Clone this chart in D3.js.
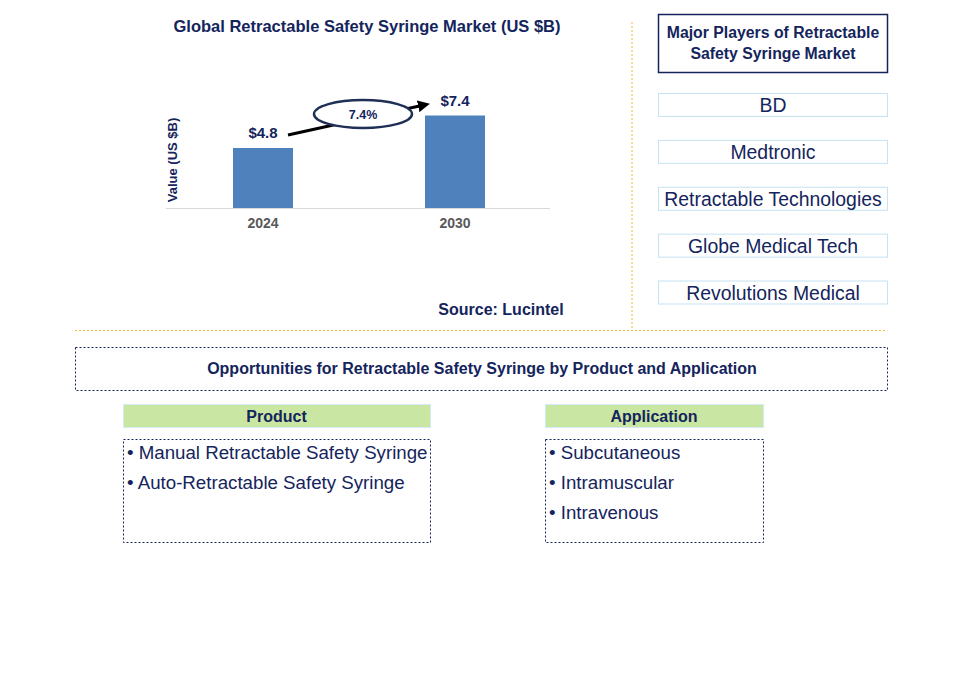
<!DOCTYPE html>
<html><head><meta charset="utf-8">
<script src="https://cdn.jsdelivr.net/npm/d3@7/dist/d3.min.js"></script>
<style>body{margin:0;background:#fff}svg{display:block;font-family:"Liberation Sans",Arial,sans-serif}</style>
</head><body>
<svg id="c" width="963" height="673"></svg>
<script>
const years = ["2024", "2030"];
const values = [4.8, 7.4];
const valueLabels = ["$4.8", "$7.4"];
const cagrLabel = "7.4%";
const players = ["BD", "Medtronic", "Retractable Technologies", "Globe Medical Tech", "Revolutions Medical"];
const products = ["Manual Retractable Safety Syringe", "Auto-Retractable Safety Syringe"];
const applications = ["Subcutaneous", "Intramuscular", "Intravenous"];

const navy = "#14245c";
const svg = d3.select("#c");

// chart
const x = d3.scaleBand().domain(years).range([167, 551]).paddingInner(0.6875).paddingOuter(0.34375);
const y = d3.scaleLinear().domain([0, 8]).range([208, 108]);

svg.append("text").attr("x", 367).attr("y", 32).attr("text-anchor", "middle")
  .attr("font-size", 16.5).attr("font-weight", "bold").attr("fill", navy)
  .text("Global Retractable Safety Syringe Market (US $B)");

svg.selectAll("rect.bar").data(values).join("rect").attr("class", "bar")
  .attr("x", (d, i) => x(years[i])).attr("width", x.bandwidth())
  .attr("y", d => y(d)).attr("height", d => y(0) - y(d)).attr("fill", "#4f81bd");

const xAxis = svg.append("g").attr("transform", `translate(0,${y(0)})`)
  .call(d3.axisBottom(x).tickSize(0).tickPadding(10));
xAxis.select(".domain").attr("stroke", "#d9d9d9").attr("d", "M166,0.5H550");
xAxis.selectAll("text").attr("font-size", 14).attr("font-weight", "bold").attr("fill", "#595959")
  .attr("font-family", "Liberation Sans, Arial, sans-serif");

svg.append("text").attr("transform", "translate(177,160) rotate(-90)").attr("text-anchor", "middle")
  .attr("font-size", 13).attr("font-weight", "bold").attr("fill", navy).text("Value (US $B)");

svg.selectAll("text.val").data(values).join("text").attr("class", "val")
  .attr("x", (d, i) => x(years[i]) + x.bandwidth() / 2).attr("y", d => y(d) - 10)
  .attr("text-anchor", "middle").attr("font-size", 15).attr("font-weight", "bold").attr("fill", navy)
  .text((d, i) => valueLabels[i]);

// arrow
svg.append("defs").append("marker").attr("id", "ah").attr("viewBox", "0 0 10 10")
  .attr("refX", 5).attr("refY", 5).attr("markerWidth", 4).attr("markerHeight", 4).attr("orient", "auto")
  .append("path").attr("d", "M0,0L10,5L0,10z").attr("fill", "#000");
svg.append("line").attr("x1", 288).attr("y1", 135).attr("x2", 424).attr("y2", 105)
  .attr("stroke", "#000").attr("stroke-width", 3).attr("marker-end", "url(#ah)");
svg.append("ellipse").attr("cx", 363).attr("cy", 114).attr("rx", 49).attr("ry", 14)
  .attr("fill", "#fff").attr("stroke", "#1f2f56").attr("stroke-width", 2.5);
svg.append("text").attr("x", 363).attr("y", 119).attr("text-anchor", "middle")
  .attr("font-size", 12.5).attr("font-weight", "bold").attr("fill", navy).text(cagrLabel);

svg.append("text").attr("x", 501).attr("y", 315).attr("text-anchor", "middle")
  .attr("font-size", 16).attr("font-weight", "bold").attr("fill", navy).text("Source: Lucintel");

// separators
svg.append("line").attr("x1", 632).attr("y1", 22).attr("x2", 632).attr("y2", 331)
  .attr("stroke", "#f5b82e").attr("stroke-dasharray", "2,2");
svg.append("line").attr("x1", 75).attr("y1", 330.5).attr("x2", 887).attr("y2", 330.5)
  .attr("stroke", "#f5b82e").attr("stroke-dasharray", "2,2");

// players
svg.append("rect").attr("x", 658.5).attr("y", 14.5).attr("width", 229).attr("height", 58)
  .attr("fill", "#fff").attr("stroke", navy).attr("stroke-width", 1.5);
svg.append("text").attr("x", 773).attr("y", 37.5).attr("text-anchor", "middle").attr("font-size", 15.8)
  .attr("font-weight", "bold").attr("fill", navy).text("Major Players of Retractable");
svg.append("text").attr("x", 773).attr("y", 58.5).attr("text-anchor", "middle").attr("font-size", 15.8)
  .attr("font-weight", "bold").attr("fill", navy).text("Safety Syringe Market");

const py = d3.scalePoint().domain(players).range([105, 292.5]);
const pg = svg.selectAll("g.pl").data(players).join("g").attr("class", "pl");
pg.append("rect").attr("x", 658.5).attr("y", d => py(d) - 11.5).attr("width", 229).attr("height", 23)
  .attr("fill", "#fff").attr("stroke", "#c5e3f3").attr("stroke-width", 1);
pg.append("text").attr("x", 773).attr("y", d => py(d) + 7).attr("text-anchor", "middle")
  .attr("font-size", 19.4).attr("fill", navy).text(d => d);

// opportunities
svg.append("rect").attr("x", 75.5).attr("y", 347.5).attr("width", 812).attr("height", 43)
  .attr("fill", "none").attr("stroke", navy).attr("stroke-dasharray", "2,2");
svg.append("text").attr("x", 482).attr("y", 373.5).attr("text-anchor", "middle").attr("font-size", 16)
  .attr("font-weight", "bold").attr("fill", navy)
  .text("Opportunities for Retractable Safety Syringe by Product and Application");

function panel(x0, w, title, items) {
  svg.append("rect").attr("x", x0 + 0.5).attr("y", 404.5).attr("width", w).attr("height", 23)
    .attr("fill", "#c9e7a2").attr("stroke", "#d6eaf5");
  svg.append("text").attr("x", x0 + w / 2).attr("y", 421.5).attr("text-anchor", "middle").attr("font-size", 16)
    .attr("font-weight", "bold").attr("fill", navy).text(title);
  svg.append("rect").attr("x", x0 + 0.5).attr("y", 439.5).attr("width", w).attr("height", 103)
    .attr("fill", "none").attr("stroke", navy).attr("stroke-dasharray", "2,2");
  const iy = d3.scaleLinear().domain([0, 1]).range([458.5, 488.5]);
  svg.selectAll(null).data(items).join("text").attr("x", x0 + 4).attr("y", (d, i) => iy(i))
    .attr("font-size", 18.7).attr("fill", navy).text(d => "\u2022 " + d);
}
panel(123, 307, "Product", products);
panel(545, 218, "Application", applications);
</script>
</body></html>
